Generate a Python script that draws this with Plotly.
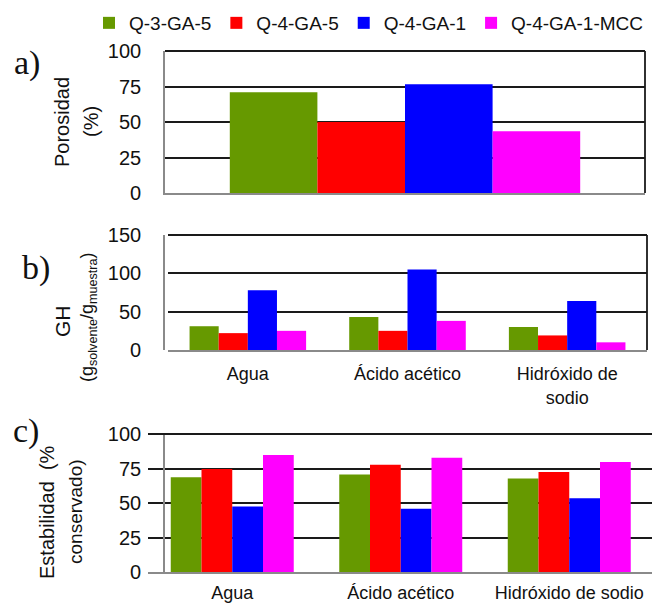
import plotly.graph_objects as go

# ---------------- data ----------------
series = ["Q-3-GA-5", "Q-4-GA-5", "Q-4-GA-1", "Q-4-GA-1-MCC"]
colors = ["#669900", "#FF0000", "#0000FF", "#FF00FF"]

# a) porosity (%)
porosity_cat = ["Porosidad"]
porosidad = [71, 50, 76.5, 43.5]

# b) GH (g solvente / g muestra)
solvents_b = ["Agua", "Ácido acético", "Hidróxido de<br>sodio"]
gh_q3ga5 = [31, 43, 30]
gh_q4ga5 = [22, 25, 19]
gh_q4ga1 = [78, 105, 64]
gh_q4ga1mcc = [25, 38, 10]

# c) stability (% conservado)
solvents_c = ["Agua", "Ácido acético", "Hidróxido de sodio"]
est_q3ga5 = [68.7, 70.6, 67.7]
est_q4ga5 = [74.7, 77.8, 72.5]
est_q4ga1 = [47.5, 45.8, 53.5]
est_q4ga1mcc = [84.8, 82.7, 79.8]

yticks_a = [0, 25, 50, 75, 100]
yticks_b = [0, 50, 100, 150]
yticks_c = [0, 25, 50, 75, 100]

W, H = 652, 606
FONT = "Liberation Sans, Arial, sans-serif"
SERIF = "Liberation Serif, Times New Roman, serif"

def px_x(v):
    return v / W

def px_y(v):
    return 1 - v / H

fig = go.Figure()

gh_series = [gh_q3ga5, gh_q4ga5, gh_q4ga1, gh_q4ga1mcc]
est_series = [est_q3ga5, est_q4ga5, est_q4ga1, est_q4ga1mcc]

for i, name in enumerate(series):
    fig.add_trace(go.Bar(x=porosity_cat, y=[porosidad[i]], name=name,
                         marker=dict(color=colors[i], line=dict(width=0)),
                         xaxis="x", yaxis="y", legendgroup=name, showlegend=True))
for i, name in enumerate(series):
    fig.add_trace(go.Bar(x=solvents_b, y=gh_series[i], name=name,
                         marker=dict(color=colors[i], line=dict(width=0)),
                         xaxis="x2", yaxis="y2", legendgroup=name, showlegend=False))
for i, name in enumerate(series):
    fig.add_trace(go.Bar(x=solvents_c, y=est_series[i], name=name,
                         marker=dict(color=colors[i], line=dict(width=0)),
                         xaxis="x3", yaxis="y3", legendgroup=name, showlegend=False))

GRID = "#1a1a1a"
AXIS = "#8a8a8a"

def yax(domain, rng, ticks):
    return dict(domain=domain, range=rng, tickvals=ticks, showgrid=True,
                gridcolor=GRID, gridwidth=1.6, showline=True, linecolor=AXIS,
                linewidth=1.6, zeroline=False, ticks="", ticklabelstandoff=18,
                tickfont=dict(family=FONT, size=20, color="#111"), fixedrange=True,
                automargin=False)

def xax(domain, anchor, show=True, rng=None, standoff=8):
    d = dict(domain=domain, anchor=anchor, showline=True, linecolor=AXIS,
             linewidth=1.6, showgrid=False, zeroline=False, ticks="",
             showticklabels=show, ticklabelstandoff=standoff,
             tickfont=dict(family=FONT, size=18, color="#111"), fixedrange=True,
             automargin=False)
    if rng is not None:
        d["range"] = rng
    return d

dom_a_y = [px_y(193), px_y(51)]
dom_b_y = [px_y(350), px_y(235)]
dom_c_y = [px_y(572), px_y(434)]

fig.update_layout(
    width=W, height=H,
    margin=dict(l=0, r=0, t=0, b=0, autoexpand=False),
    paper_bgcolor="white", plot_bgcolor="white",
    barmode="group", bargap=0.27, bargroupgap=0,
    font=dict(family=FONT, color="#111"),
    xaxis=xax([px_x(165), px_x(645)], "y", show=False),
    yaxis=yax(dom_a_y, [0, 100], yticks_a),
    xaxis2=xax([px_x(168), px_x(647)], "y2", standoff=7),
    yaxis2=yax(dom_b_y, [0, 150], yticks_b),
    xaxis3=xax([px_x(148), 1.0], "y3", rng=[-0.5, -0.5 + (652 - 148) / 168.5], standoff=4),
    yaxis3=yax(dom_c_y, [0, 100], yticks_c),
    legend=dict(orientation="h", x=px_x(89), xanchor="left", y=px_y(4), yanchor="top",
                font=dict(family=FONT, size=19, color="#111"),
                itemwidth=30, tracegroupgap=0, bgcolor="rgba(0,0,0,0)"),
    showlegend=True,
)

shapes = []
for xr, yr in [("x domain", "y domain"), ("x2 domain", "y2 domain"), ("x3 domain", "y3 domain")]:
    shapes.append(dict(type="line", xref=xr, yref=yr, x0=0, x1=1, y0=1, y1=1,
                       line=dict(color=GRID, width=1.8)))
for xr, yr in [("x domain", "y domain"), ("x2 domain", "y2 domain")]:
    shapes.append(dict(type="line", xref=xr, yref=yr, x0=1, x1=1, y0=0, y1=1,
                       line=dict(color=GRID, width=1.8)))
fig.update_layout(shapes=shapes)

ann = []
# panel letters
for txt, x, y in [("a)", 27, 63), ("b)", 36, 268), ("c)", 26, 431)]:
    ann.append(dict(text=txt, x=px_x(x), y=px_y(y), xref="paper", yref="paper",
                    xanchor="center", yanchor="middle", showarrow=False,
                    font=dict(family=SERIF, size=34, color="#111")))
# y titles
ytitles = [
    ("Porosidad", 62, 122, 20),
    ("(%)", 91, 122, 20),
    ("GH", 62, 321, 21),
    ("(g<sub>solvente</sub>/g<sub>muestra</sub>)", 88, 318, 18),
    ("Estabilidad  (%", 47, 512, 20),
    ("conservado)", 75, 512, 19),
]
for txt, x, y, s in ytitles:
    ann.append(dict(text=txt, x=px_x(x), y=px_y(y), xref="paper", yref="paper",
                    xanchor="center", yanchor="middle", showarrow=False, textangle=-90,
                    font=dict(family=FONT, size=s, color="#111")))
fig.update_layout(annotations=ann)

fig.write_html("out.html")
